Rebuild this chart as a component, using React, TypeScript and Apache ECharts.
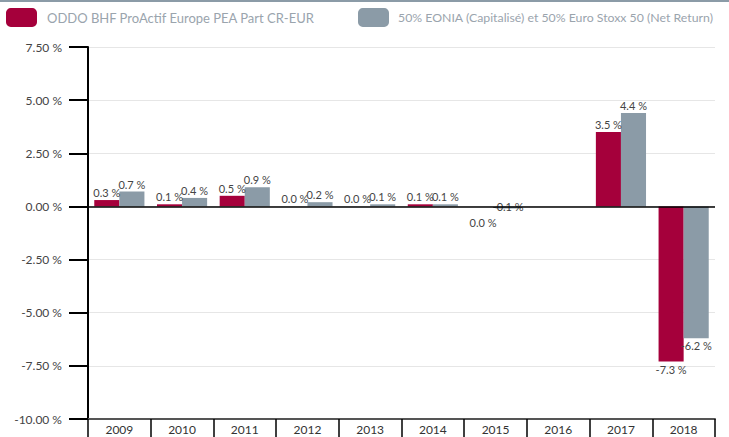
import React, { useEffect, useRef } from "react";
import * as echarts from "echarts";

const categories = ["2009", "2010", "2011", "2012", "2013", "2014", "2015", "2016", "2017", "2018"];
const fundName = "ODDO BHF ProActif Europe PEA Part CR-EUR";
const benchName = "50% EONIA (Capitalisé) et 50% Euro Stoxx 50 (Net Return)";
const fundValues: (number | null)[] = [0.3, 0.1, 0.5, 0.0, 0.0, 0.1, 0.0, null, 3.5, -7.3];
const benchValues: (number | null)[] = [0.7, 0.4, 0.9, 0.2, 0.1, 0.1, -0.1, null, 4.4, -6.2];
const yTicks = { min: -10, max: 7.5, interval: 2.5 };

const RED = "#A5003B";
const GRAY = "#8B9BA7";
const FONT = "Lato";

function buildData(values: (number | null)[], special: Record<string, any>) {
  return values.map((v, i) => {
    if (v === null) return null;
    const cat = categories[i];
    if (special[cat]) return { value: v, label: special[cat] };
    return {
      value: v,
      label: { position: v < 0 ? "bottom" : "top", distance: 2 },
    };
  });
}

export default function App() {
  const ref = useRef<HTMLDivElement>(null);
  useEffect(() => {
    if (!ref.current) return;
    const chart = echarts.init(ref.current, null, { renderer: "svg" });
    const labelCommon = {
      show: true,
      color: "#444",
      fontSize: 11,
      fontFamily: FONT,
      formatter: (p: any) => (p.value === null || p.value === undefined ? "" : Number(p.value).toFixed(1) + " %"),
    };
    const legendCommon = {
      orient: "horizontal",
      top: 8,
      padding: 0,
      itemWidth: 31,
      itemHeight: 19,
      icon: "roundRect",
      selectedMode: false,
    };
    chart.setOption({
      animation: false,
      backgroundColor: "#fff",
      graphic: [
        { type: "rect", left: 0, top: 0, shape: { width: 729, height: 2 }, style: { fill: GRAY } },
      ],
      legend: [
        {
          ...legendCommon,
          left: 6,
          data: [fundName],
          textStyle: { color: "#9aa4ad", fontSize: 13, fontFamily: FONT, padding: [0, 0, 0, 5] },
        },
        {
          ...legendCommon,
          left: 358,
          data: [benchName],
          textStyle: { color: "#9aa4ad", fontSize: 12.3, fontFamily: FONT, padding: [0, 0, 0, 4] },
        },
      ],
      grid: { left: 88, right: 14, top: 47, bottom: 18, containLabel: false },
      xAxis: {
        type: "category",
        data: categories,
        boundaryGap: true,
        axisLine: { onZero: false, lineStyle: { color: "#555", width: 2 } },
        axisTick: { show: true, inside: false, length: 18, lineStyle: { color: "#000", width: 1.5 } },
        axisLabel: { color: "#333", fontSize: 12, fontFamily: FONT, margin: 4 },
        splitLine: { show: false },
      },
      yAxis: {
        type: "value",
        min: yTicks.min,
        max: yTicks.max,
        interval: yTicks.interval,
        axisLine: { show: true, lineStyle: { color: "#000", width: 2 } },
        axisTick: { show: true, length: 19, lineStyle: { color: "#000", width: 2 } },
        axisLabel: {
          color: "#444",
          fontSize: 12,
          fontFamily: FONT,
          margin: 26,
          formatter: (v: number) => v.toFixed(2) + " %",
        },
        splitLine: { show: true, lineStyle: { color: "#e6e6e6", width: 1 } },
      },
      series: [
        {
          name: fundName,
          type: "bar",
          barGap: "0%",
          barCategoryGap: "20%",
          itemStyle: { color: RED },
          label: labelCommon,
          data: buildData(fundValues, {
            "2015": { position: "bottom", distance: 11 },
          }),
          markLine: {
            silent: true,
            symbol: ["none", "none"],
            label: { show: false },
            lineStyle: { color: "#000", width: 1.5, type: "solid" },
            data: [{ yAxis: 0 }],
          },
        },
        {
          name: benchName,
          type: "bar",
          barGap: "0%",
          barCategoryGap: "20%",
          itemStyle: { color: GRAY },
          label: labelCommon,
          data: buildData(benchValues, {
            "2015": { position: "top", distance: 2, offset: [0, 8] },
          }),
        },
      ],
    });
    return () => chart.dispose();
  }, []);
  return (
    <div
      ref={ref}
      style={{ position: "fixed", left: 0, top: 0, width: 729, height: 437, background: "#fff" }}
    />
  );
}
